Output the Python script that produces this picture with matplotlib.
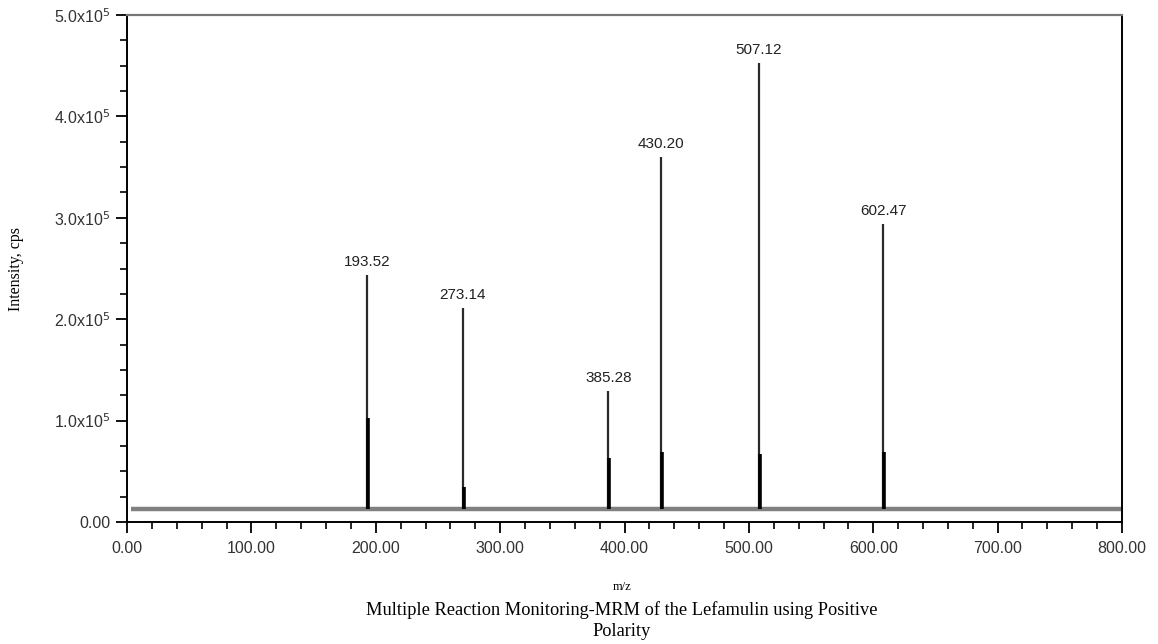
import numpy as np
import matplotlib.pyplot as plt
from matplotlib.ticker import MultipleLocator, FuncFormatter

# peak data
peak_labels = ['193.52', '273.14', '385.28', '430.20', '507.12', '602.47']
peak_x = [193.0, 270.0, 387.0, 429.0, 508.0, 608.0]
peak_height = [2.44e5, 2.11e5, 1.29e5, 3.60e5, 4.53e5, 2.94e5]
peak_stub = [1.03e5, 0.35e5, 0.63e5, 0.69e5, 0.67e5, 0.69e5]
baseline = 1.3e4

y_tick_labels = ['0.00', '1.0x10$^5$', '2.0x10$^5$', '3.0x10$^5$', '4.0x10$^5$', '5.0x10$^5$']

plt.rcParams['font.family'] = ['Liberation Sans', 'DejaVu Sans']

fig = plt.figure(figsize=(11.58, 6.44), dpi=100)
ax = fig.add_axes([0.1097, 0.1894, 0.8592, 0.7873])

# baseline trace
ax.plot([3, 800], [baseline, baseline], color='#808080', lw=3.2, solid_capstyle='butt', zorder=2)

# peaks
ax.vlines(peak_x, baseline, peak_height, color='#2a2a2a', lw=1.6, zorder=3)
ax.vlines(np.array(peak_x) + 0.9, baseline, peak_stub, color='black', lw=2.6, zorder=3)
for x, h, lab in zip(peak_x, peak_height, peak_labels):
    ax.text(x, h + 0.06e5, lab, ha='center', va='bottom', fontsize=11, color='#222222')

ax.set_xlim(0, 800)
ax.set_ylim(0, 5.0e5)

ax.xaxis.set_major_locator(MultipleLocator(100))
ax.xaxis.set_minor_locator(MultipleLocator(20))
ax.yaxis.set_minor_locator(MultipleLocator(2.5e4))
ax.xaxis.set_major_formatter(FuncFormatter(lambda v, p: '%.2f' % v))
ax.set_yticks(np.arange(0, 5.01e5, 1e5))
ax.set_yticklabels(y_tick_labels)

ax.tick_params(which='major', length=8, width=1.3, labelsize=11.5, labelcolor='#333333', pad=4)
ax.tick_params(which='minor', length=5, width=1.2)
ax.tick_params(axis='x', which='major', pad=6)

ax.spines['top'].set_color('#777777')
ax.spines['top'].set_linewidth(1.6)
for s in ['left', 'bottom', 'right']:
    ax.spines[s].set_linewidth(1.4)

ax.set_ylabel('Intensity, cps', family=['Liberation Serif'], fontsize=11.5, labelpad=22)
fig.text(0.537, 0.0885, 'm/z', family=['Liberation Serif'], fontsize=9, ha='center', va='center')
fig.text(0.537, 0.037, 'Multiple Reaction Monitoring-MRM of the Lefamulin using Positive\nPolarity',
         family=['Liberation Serif'], fontsize=13.2, ha='center', va='center', linespacing=1.3)

fig.savefig('out.png', dpi=100)
